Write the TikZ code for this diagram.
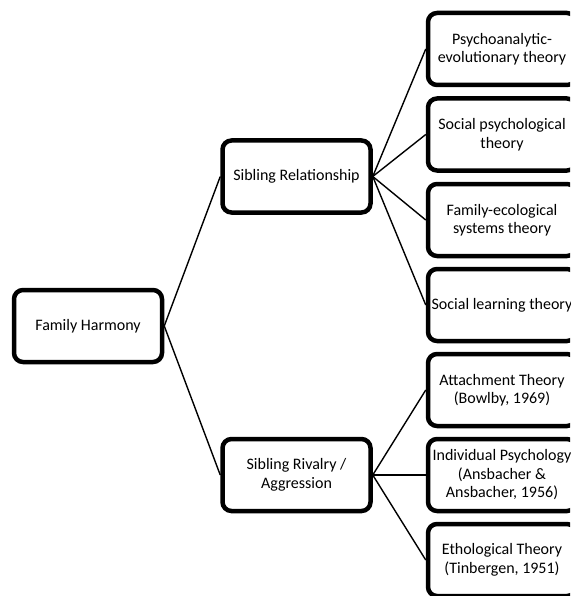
\documentclass[tikz,border=0pt]{standalone}
\usepackage{fontspec}
\setmainfont{Carlito}
\usepackage{tikz}

\begin{document}
\begin{tikzpicture}[x=1pt,y=-1pt,
    box/.style={draw, line width=4.5pt, rounded corners=9pt, fill=white,
        minimum width=148pt, minimum height=72pt, inner sep=2pt,
        align=center, font=\fontsize{16}{18.5}\selectfont},
    link/.style={line width=1.4pt}]
    
    \useasboundingbox (0,0) rectangle (570,596);
    \clip (0,0) rectangle (570,596);
    \fill[white] (0,0) rectangle (570,596);
    
    
    \node[box] (harmony) at (88,326) {Family Harmony};
    
    \node[box] (relation) at (296.5,176.5) {Sibling Relationship};
    \node[box] (rivalry) at (296.5,475) {Sibling Rivalry /\\Aggression};
    
    
    \node[box] (psycho) at (502,49) {Psychoanalytic-\\evolutionary theory};
    \node[box] (socpsy) at (502,134.5) {Social psychological\\theory};
    \node[box] (ecolog) at (502,220) {Family-ecological\\systems theory};
    \node[box] (social) at (502,305) {Social learning theory};
    
    \node[box] (attach) at (502,390) {Attachment Theory\\(Bowlby, 1969)};
    \node[box] (indiv) at (502,475) {Individual Psychology\\(Ansbacher \&\\Ansbacher, 1956)};
    \node[box] (etholo) at (502,560) {Ethological Theory\\(Tinbergen, 1951)};
    
    
    \draw[link] (harmony.east) -- (relation.west);
    \draw[link] (harmony.east) -- (rivalry.west);
    
    \draw[link] (relation.east) -- (psycho.west);
    \draw[link] (relation.east) -- (socpsy.west);
    \draw[link] (relation.east) -- (ecolog.west);
    \draw[link] (relation.east) -- (social.west);
    
    \draw[link] (rivalry.east) -- (attach.west);
    \draw[link] (rivalry.east) -- (indiv.west);
    \draw[link] (rivalry.east) -- (etholo.west);
    
\end{tikzpicture}
\end{document}
